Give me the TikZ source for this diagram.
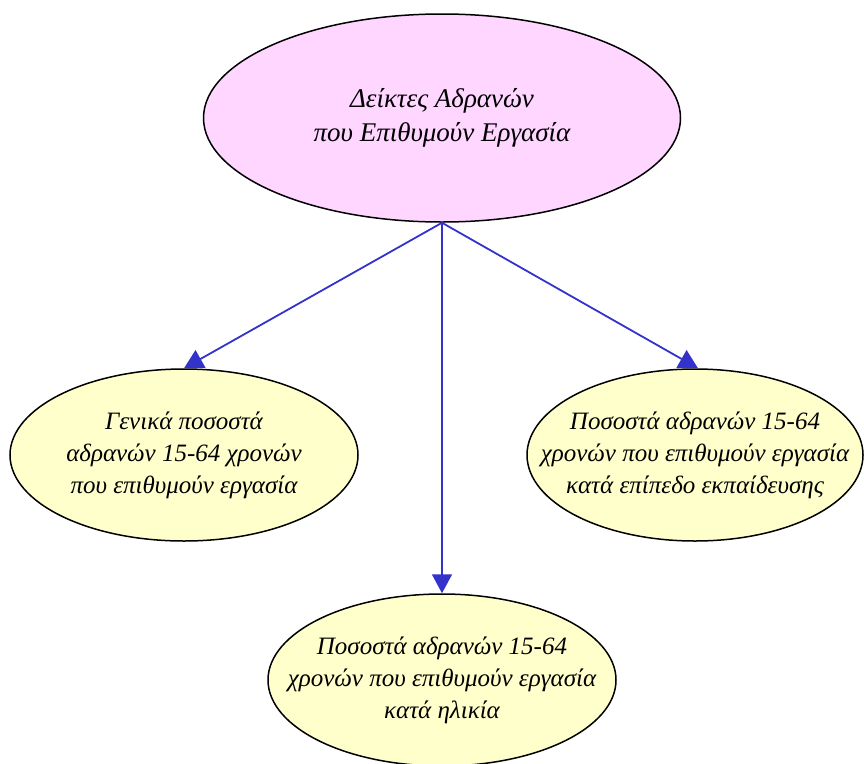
\documentclass[tikz,border=0pt]{standalone}
\usepackage{fontspec}
\setmainfont{Liberation Serif}
\usetikzlibrary{shapes.geometric,arrows.meta}
\definecolor{toppink}{RGB}{255,214,255}
\definecolor{leafyellow}{RGB}{255,255,204}
\definecolor{linkblue}{RGB}{51,51,204}
\begin{document}
\begin{tikzpicture}[x=1pt,y=-1pt,
        bubble/.style={ellipse,draw,line width=1.5pt,inner sep=0pt},
        topbubble/.style={bubble,fill=toppink,minimum width=477pt,minimum height=208pt},
        leafbubble/.style={bubble,fill=leafyellow,minimum width=342pt,minimum height=172pt},
        toptext/.style={align=center,font=\fontsize{27}{34}\selectfont\itshape},
        leaftext/.style={align=center,font=\fontsize{25}{32}\selectfont\itshape},
        link/.style={draw=linkblue,line width=1.8pt,-{Triangle[width=20pt,length=19pt]}}]
    \useasboundingbox (0,0) rectangle (864,763);

    % Root
    \node[topbubble] (root) at (442,118) {};
    \node[toptext] (roottext) at (root) {Δείκτες Αδρανών\\που Επιθυμούν Εργασία};

    % Leaves
    \node[leafbubble,minimum width=348pt] (general) at (184,455) {};
    \node[leaftext] (generaltext) at (general)
        {Γενικά ποσοστά\\αδρανών 15-64 χρονών\\που επιθυμούν εργασία};
    \node[leafbubble,minimum width=336pt] (education) at (695,455) {};
    \node[leaftext] (educationtext) at (education)
        {Ποσοστά αδρανών 15-64\\χρονών που επιθυμούν εργασία\\κατά επίπεδο εκπαίδευσης};
    \node[leafbubble,minimum width=348pt] (age) at (442,680) {};
    \node[leaftext] (agetext) at (age)
        {Ποσοστά αδρανών 15-64\\χρονών που επιθυμούν εργασία\\κατά ηλικία};

    % Links
    \draw[link] (root.south) -- (general.north);
    \draw[link] (root.south) -- (age.north);
    \draw[link] (root.south) -- (education.88);
\end{tikzpicture}
\end{document}
